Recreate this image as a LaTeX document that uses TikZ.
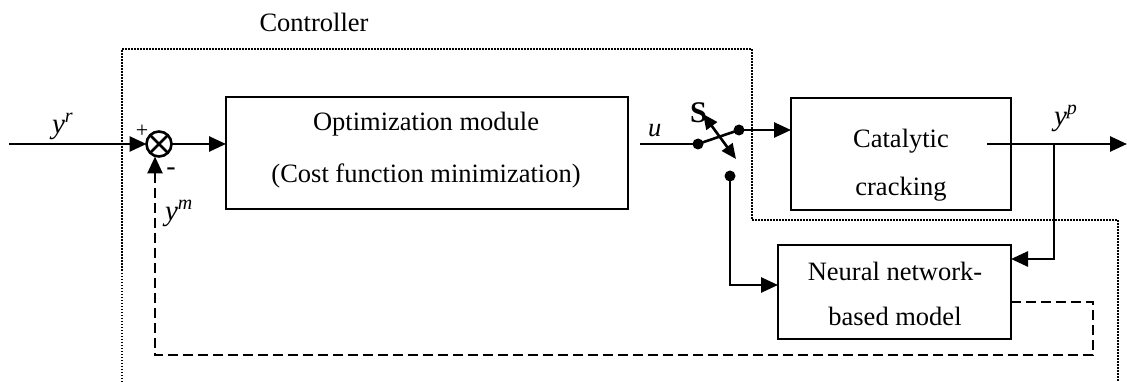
\documentclass[tikz,border=0pt]{standalone}
\usepackage{fontspec}
\setmainfont{Liberation Serif}
\usetikzlibrary{arrows.meta}
\newcommand\symb[2]{{\fontsize{29}{30}\selectfont\itshape #1}\raisebox{11pt}{\fontsize{20}{20}\selectfont\itshape #2}}
\begin{document}
\begin{tikzpicture}[x=1pt,y=-1pt,
  every node/.style={font=\fontsize{26.5}{30}\selectfont, inner sep=0pt, outer sep=0pt},
  blk/.style={draw, line width=2.8pt, rectangle},
  wire/.style={line width=2.6pt},
  tip/.style={-{Triangle[length=17pt,width=15pt]}},
  fb/.style={wire, dash pattern=on 10pt off 5pt},
  ctrl/.style={line width=1.8pt, dash pattern=on 1.5pt off 1.5pt},
  dot/.style={circle, fill, minimum size=11pt, inner sep=0pt}]
\useasboundingbox (0,0) rectangle (1127,382);

% controller boundary
\draw[ctrl] (122,382) -- (122,49) -- (752,49) -- (752,220) -- (1118,220) -- (1118,382);
\node[anchor=base] (ctl) at (314,32) {Controller};

% blocks
\node[blk, minimum width=402pt, minimum height=112pt] (opt) at (427,153) {};
\node[anchor=base] (opt1) at (426,131) {Optimization module};
\node[anchor=base] (opt2) at (426,183) {(Cost function minimization)};

\node[blk, minimum width=220pt, minimum height=112pt] (cat) at (901,154) {};
\node[anchor=base] (cat1) at (901,148) {Catalytic};
\node[anchor=base] (cat2) at (901,196) {cracking};

\node[blk, minimum width=233pt, minimum height=94pt] (nn) at (894.5,292) {};
\node[anchor=base] (nn1) at (895,280) {Neural network-};
\node[anchor=base] (nn2) at (895,325) {based model};

% summing junction
\node[draw, circle, line width=2.6pt, minimum size=25pt] (sum) at (159,144) {};
\draw[line width=2.6pt] (sum.north west) -- (sum.south east) (sum.north east) -- (sum.south west);
\node[font=\fontsize{22}{22}\selectfont] (plus) at (142,131) {+};
\node[font=\fontsize{28}{28}\selectfont] (minus) at (171,172) {-};

% switch
\node[dot] (sw1) at (698,144) {};
\node[dot] (sw2) at (739,130) {};
\node[dot] (sw3) at (730,176) {};
\coordinate (sa) at (703,114);
\coordinate (sb) at (736,159);
\node[anchor=base west, font=\fontsize{30}{30}\selectfont\bfseries] (slbl) at (690,123) {S};
\node[anchor=base west] (ulbl) at (648,137) {\itshape u};

% signal labels
\node[anchor=base west] (yr) at (52,134) {\symb{y}{r}};
\node[anchor=base west] (yp) at (1054,126) {\symb{y}{p}};
\node[anchor=base west] (ym) at (165,221) {\symb{y}{m}};

% connectors
\coordinate (in) at (9,144);
\coordinate (uin) at (640,144);
\coordinate (yo) at (987,144);
\coordinate (yend) at (1127,144);
\coordinate (br) at (1054,144);
\coordinate (brk) at (1054,259);
\coordinate (k1) at (730,285);
\coordinate (f1) at (1093,302);
\coordinate (f2) at (1093,355);
\coordinate (f3) at (155,355);

\draw[wire,tip] (in) -- (sum.west);
\draw[wire,tip] (sum.east) -- (opt.west |- sum.east);
\draw[wire] (uin) -- (sw1.center);
\draw[wire] (sw1.center) -- (sw2.center);
\draw[wire,tip] (sw2.center) -- (cat.west |- sw2);
\draw[wire,{Triangle[length=15pt,width=13pt]}-{Triangle[length=15pt,width=13pt]}] (sa) -- (sb);
\draw[wire,tip] (sw3.center) -- (k1) -- (nn.west |- k1);
\draw[wire,tip] (yo) -- (yend);
\draw[wire,tip] (br) -- (brk) -- (nn.east |- brk);
\draw[fb,tip] (nn.east |- f1) -- (f1) -- (f2) -- (f3) -- (f3 |- sum.south);
\end{tikzpicture}
\end{document}
